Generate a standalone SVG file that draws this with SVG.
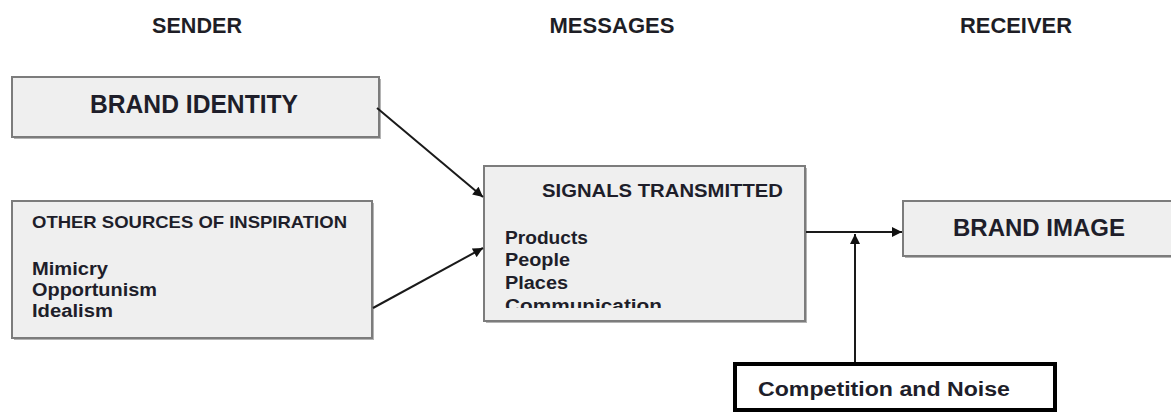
<svg xmlns="http://www.w3.org/2000/svg" width="1171" height="414" viewBox="0 0 1171 414">
<style>
.hdr{font-family:"Liberation Sans",Arial,sans-serif;font-weight:bold;font-size:21.5px;fill:#1e1e26;text-anchor:middle}
.box{fill:#efefef;stroke:#7c7c7c;stroke-width:2}
.shadow{fill:#b4b4b4}
.t{font-family:"Liberation Sans",Arial,sans-serif;font-weight:bold;fill:#1e1e2a}
.conn{stroke:#1a1a1a;stroke-width:2;fill:none;marker-end:url(#ah)}
</style>
<defs>
<marker id="ah" viewBox="0 0 10 10" refX="10" refY="5" markerWidth="13" markerHeight="10" markerUnits="userSpaceOnUse" orient="auto">
<path d="M0,0 L10,5 L0,10 z" fill="#111"/>
</marker>
<clipPath id="stclip"><rect x="484" y="166" width="321" height="142"/></clipPath>
</defs>
<rect width="1171" height="414" fill="#ffffff"/>
<g id="headers">
<text class="hdr" x="197" y="33" textLength="90" lengthAdjust="spacingAndGlyphs">SENDER</text>
<text class="hdr" x="612" y="33" textLength="125" lengthAdjust="spacingAndGlyphs">MESSAGES</text>
<text class="hdr" x="1016" y="33" textLength="112" lengthAdjust="spacingAndGlyphs">RECEIVER</text>
</g>
<g id="brand-identity">
<rect class="shadow" x="14" y="79" width="367" height="60"/>
<rect class="box" x="12" y="77" width="367" height="60"/>
<text class="t" x="90" y="113" font-size="25" textLength="208" lengthAdjust="spacingAndGlyphs">BRAND IDENTITY</text>
</g>
<g id="other-sources">
<rect class="shadow" x="14" y="203" width="360" height="137"/>
<rect class="box" x="12" y="201" width="360" height="137"/>
<text class="t" x="32" y="228" font-size="17" textLength="315" lengthAdjust="spacingAndGlyphs">OTHER SOURCES OF INSPIRATION</text>
<text class="t" x="32" y="275" font-size="18" textLength="76" lengthAdjust="spacingAndGlyphs">Mimicry</text>
<text class="t" x="32" y="296" font-size="18" textLength="125" lengthAdjust="spacingAndGlyphs">Opportunism</text>
<text class="t" x="32" y="317" font-size="18" textLength="81" lengthAdjust="spacingAndGlyphs">Idealism</text>
</g>
<g id="signals-transmitted">
<rect class="shadow" x="486" y="168" width="321" height="155"/>
<rect class="box" x="484" y="166" width="321" height="155"/>
<text class="t" x="542" y="197" font-size="19" textLength="241" lengthAdjust="spacingAndGlyphs">SIGNALS TRANSMITTED</text>
<g clip-path="url(#stclip)">
<text class="t" x="505" y="244" font-size="18" textLength="83" lengthAdjust="spacingAndGlyphs">Products</text>
<text class="t" x="505" y="266" font-size="18" textLength="65" lengthAdjust="spacingAndGlyphs">People</text>
<text class="t" x="505" y="289" font-size="18" textLength="63" lengthAdjust="spacingAndGlyphs">Places</text>
<text class="t" x="505" y="312" font-size="18" textLength="157" lengthAdjust="spacingAndGlyphs">Communication</text>
</g>
</g>
<g id="brand-image">
<rect class="shadow" x="905" y="203" width="270" height="55"/>
<rect class="box" x="903" y="201" width="270" height="55"/>
<text class="t" x="953" y="236" font-size="24.5" textLength="172" lengthAdjust="spacingAndGlyphs">BRAND IMAGE</text>
</g>
<g id="competition-noise">
<rect x="735" y="364" width="320" height="46" fill="#ffffff" stroke="#000" stroke-width="4"/>
<text class="t" x="758" y="396" font-size="20" textLength="252" lengthAdjust="spacingAndGlyphs">Competition and Noise</text>
</g>
<g id="connectors">
<line class="conn" x1="377" y1="108" x2="483" y2="197"/>
<line class="conn" x1="373" y1="308" x2="483" y2="248"/>
<line class="conn" x1="806" y1="232" x2="902" y2="232"/>
<line class="conn" x1="855" y1="362" x2="855" y2="234"/>
</g>
</svg>
